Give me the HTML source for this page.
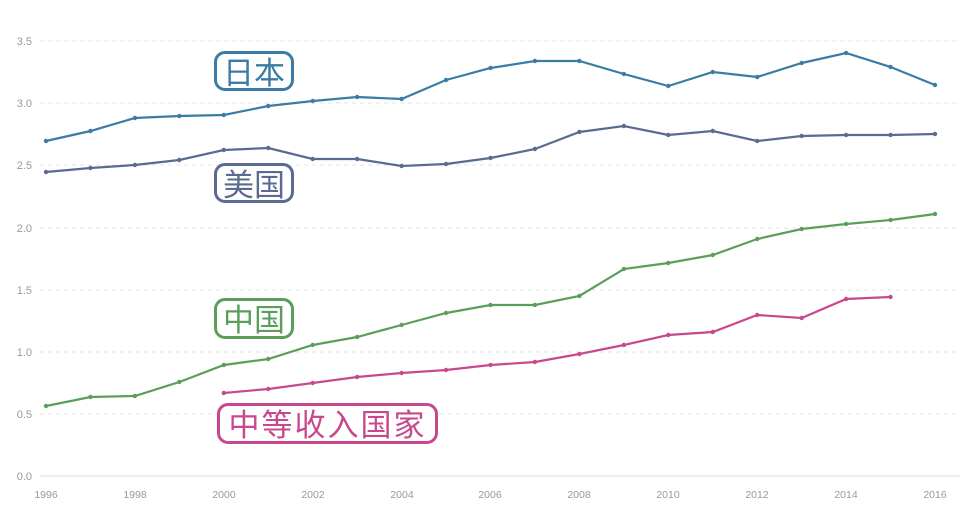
<!DOCTYPE html><html><head><meta charset="utf-8"><style>
body{margin:0;background:#fff;width:966px;height:513px;overflow:hidden;font-family:"Liberation Sans","Noto Sans CJK SC",sans-serif}
.lb{position:absolute;border:3px solid;border-radius:11px;font-family:"Noto Sans CJK SC",sans-serif;font-size:31px;line-height:33px;text-align:center;box-sizing:border-box;background:#fff;letter-spacing:0px}
</style></head><body>
<svg width="966" height="513" style="position:absolute;left:0;top:0" font-family="Liberation Sans, sans-serif" font-size="11" fill="#999">
<g stroke="#e3e3e3" stroke-dasharray="4,4">
<line x1="40" x2="960" y1="41" y2="41"/><line x1="40" x2="960" y1="103" y2="103"/><line x1="40" x2="960" y1="165" y2="165"/><line x1="40" x2="960" y1="228" y2="228"/><line x1="40" x2="960" y1="290" y2="290"/><line x1="40" x2="960" y1="352" y2="352"/><line x1="40" x2="960" y1="414" y2="414"/>
</g>
<line x1="40" x2="960" y1="476" y2="476" stroke="#ddd"/>
<g text-anchor="end"><text x="32" y="45">3.5</text><text x="32" y="107">3.0</text><text x="32" y="169">2.5</text><text x="32" y="232">2.0</text><text x="32" y="294">1.5</text><text x="32" y="356">1.0</text><text x="32" y="418">0.5</text><text x="32" y="480">0.0</text></g>
<g text-anchor="middle" font-size="10.5"><text x="46" y="498">1996</text><text x="135" y="498">1998</text><text x="224" y="498">2000</text><text x="313" y="498">2002</text><text x="402" y="498">2004</text><text x="490" y="498">2006</text><text x="579" y="498">2008</text><text x="668" y="498">2010</text><text x="757" y="498">2012</text><text x="846" y="498">2014</text><text x="935" y="498">2016</text></g>
<g id="s"></g>
</svg>
<div class="lb" style="left:214px;top:51px;width:80px;height:40px;color:#3a7ca5;border-color:#3a7ca5">日本</div>
<div class="lb" style="left:214px;top:163px;width:80px;height:40px;color:#5a6a90;border-color:#5a6a90">美国</div>
<div class="lb" style="left:214px;top:298px;width:80px;height:41px;color:#5a9e5a;border-color:#5a9e5a">中国</div>
<div class="lb" style="left:217px;top:403px;width:221px;height:41px;color:#c8488e;border-color:#c8488e;letter-spacing:2px">中等收入国家</div>
<script>
var D=[["#3a7ca5",0,[141,131,118,116,115,106,101,97,99,80,68,61,61,74,86,72,77,63,53,67,85]],
["#5a6a90",0,[172,168,165,160,150,148,159,159,166,164,158,149,132,126,135,131,141,136,135,135,134]],
["#5a9e5a",0,[406,397,396,382,365,359,345,337,325,313,305,305,296,269,263,255,239,229,224,220,214]],
["#c8488e",4,[393,389,383,377,373,370,365,362,354,345,335,332,315,318,299,297]]];
var g=document.getElementById("s"),h="";
D.forEach(function(d){var p=d[2].map(function(y,i){return (46+44.45*(i+d[1])).toFixed(1)+","+y}).join(" ");
h+='<polyline points="'+p+'" fill="none" stroke="'+d[0]+'" stroke-width="2.2"/>';
d[2].forEach(function(y,i){h+='<circle cx="'+(46+44.45*(i+d[1]))+'" cy="'+y+'" r="2.2" fill="'+d[0]+'"/>';});});
g.innerHTML=h;
</script>
</body></html>
